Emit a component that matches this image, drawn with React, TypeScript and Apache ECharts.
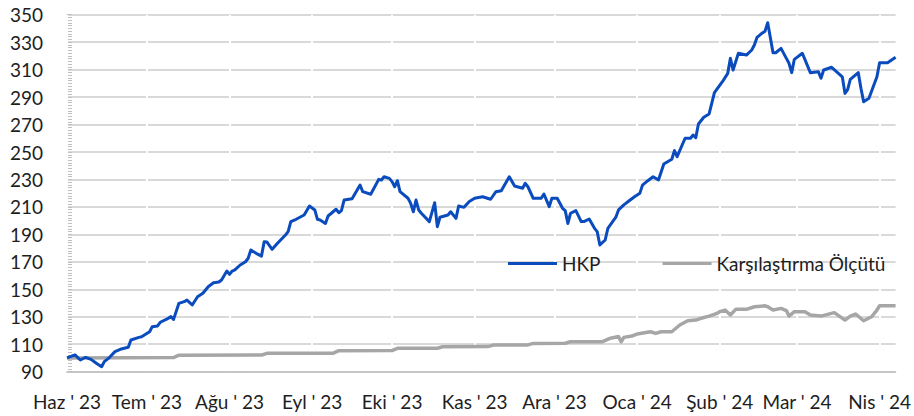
import React, { useEffect, useRef } from 'react';
import * as echarts from 'echarts';

const monthNames = ['Oca', 'Şub', 'Mar', 'Nis', 'May', 'Haz', 'Tem', 'Ağu', 'Eyl', 'Eki', 'Kas', 'Ara'];
const seriesNames = ['HKP', 'Karşılaştırma Ölçütü'];

const hkpDates = [
  '2023-06-01', '2023-06-04', '2023-06-06', '2023-06-08', '2023-06-10', '2023-06-12', '2023-06-14', '2023-06-15',
  '2023-06-17', '2023-06-19', '2023-06-21', '2023-06-24', '2023-06-25', '2023-06-28', '2023-06-29',
  '2023-07-02', '2023-07-03', '2023-07-05', '2023-07-06', '2023-07-09', '2023-07-10', '2023-07-11', '2023-07-13',
  '2023-07-15', '2023-07-16', '2023-07-18', '2023-07-20', '2023-07-22', '2023-07-24', '2023-07-26', '2023-07-28',
  '2023-07-29', '2023-07-31',
  '2023-08-01', '2023-08-02', '2023-08-03', '2023-08-05', '2023-08-07', '2023-08-08', '2023-08-09', '2023-08-11',
  '2023-08-13', '2023-08-14', '2023-08-15', '2023-08-17', '2023-08-19', '2023-08-22', '2023-08-23', '2023-08-24',
  '2023-08-26', '2023-08-29', '2023-08-31',
  '2023-09-02', '2023-09-03', '2023-09-04', '2023-09-06', '2023-09-07', '2023-09-10', '2023-09-11', '2023-09-12',
  '2023-09-13', '2023-09-16', '2023-09-19', '2023-09-20', '2023-09-23', '2023-09-26', '2023-09-27', '2023-09-28',
  '2023-09-30',
  '2023-10-01', '2023-10-02', '2023-10-03', '2023-10-04', '2023-10-07', '2023-10-08', '2023-10-09', '2023-10-10',
  '2023-10-11', '2023-10-12', '2023-10-15', '2023-10-17', '2023-10-18', '2023-10-19', '2023-10-22', '2023-10-23',
  '2023-10-25', '2023-10-26', '2023-10-28', '2023-10-30',
  '2023-11-01', '2023-11-04', '2023-11-07', '2023-11-09', '2023-11-11', '2023-11-14', '2023-11-16', '2023-11-19',
  '2023-11-20', '2023-11-21', '2023-11-23', '2023-11-26', '2023-11-27', '2023-11-29', '2023-11-30',
  '2023-12-02', '2023-12-04', '2023-12-05', '2023-12-06', '2023-12-07', '2023-12-09', '2023-12-11', '2023-12-12',
  '2023-12-14', '2023-12-16', '2023-12-17', '2023-12-18', '2023-12-20', '2023-12-21', '2023-12-24', '2023-12-25',
  '2023-12-27', '2023-12-29', '2023-12-31',
  '2024-01-02', '2024-01-03', '2024-01-05', '2024-01-07', '2024-01-09', '2024-01-11', '2024-01-14', '2024-01-15',
  '2024-01-16', '2024-01-19', '2024-01-21', '2024-01-22', '2024-01-23', '2024-01-24', '2024-01-26', '2024-01-28',
  '2024-01-30',
  '2024-02-02', '2024-02-04', '2024-02-05', '2024-02-06', '2024-02-08', '2024-02-11', '2024-02-13', '2024-02-14',
  '2024-02-15', '2024-02-17', '2024-02-18', '2024-02-19', '2024-02-21', '2024-02-22', '2024-02-24', '2024-02-26',
  '2024-02-27', '2024-02-28', '2024-02-29',
  '2024-03-03', '2024-03-06', '2024-03-09', '2024-03-10', '2024-03-11', '2024-03-14', '2024-03-18', '2024-03-19',
  '2024-03-20', '2024-03-21', '2024-03-24', '2024-03-25', '2024-03-26', '2024-03-28', '2024-03-31',
  '2024-04-01', '2024-04-04', '2024-04-07',
];

const hkpValues = [
  100, 102.2, 98.5, 100.5, 99, 96.1, 93.6, 97.3,
  100.5, 104.6, 106.3, 107.8, 113.1, 115, 115.5,
  119.1, 122.8, 123.3, 126, 128.9, 130.1, 128.1, 139.8,
  141, 142.2, 138.6, 144.6, 147.1, 151.9, 154.8, 155.3,
  156.8, 163.3,
  160.9, 163.3, 164.1, 167.7, 170.1, 172.6, 178.6, 176.2,
  174.2, 184.7, 184.5, 179.1, 183.5, 189.6, 192, 199.3,
  201, 204.1, 210.7,
  207.8, 201, 200.5, 198, 203.4, 208.3, 205.8, 207.3,
  215, 216, 226, 221.1, 219.2, 230.1, 229.6, 232,
  230.8,
  228.4, 224.7, 229.1, 221.1, 216.3, 212.6, 206.5, 215,
  207.8, 205.4, 199.3, 213.1, 195.6, 202.5, 204.1, 206.5,
  201.7, 210.7, 209.7, 213.9,
  216.3, 217.4, 215.6, 221.1, 221.8, 232, 225.2, 223.6,
  227.2, 224.7, 216.3, 216.3, 219.4, 210.2, 216.3,
  216.3, 209, 207.3, 198, 205.4, 207.3, 199.3, 199.3,
  201.2, 194.4, 192, 182.3, 185.9, 194.4, 202.5, 207.8,
  211.5, 214.5, 217.4,
  219.9, 225.9, 229.1, 232, 229.6, 241.3, 244.7, 251,
  246.6, 260, 260, 262.4, 260.4, 270.4, 275.3, 277.7,
  293.2,
  301.2, 307.3, 318.2, 309.7, 321.9, 320.6, 324.3, 327.9,
  333.5, 336.7, 338, 344.2, 322.3, 322.3, 325.5, 318.2,
  314.6, 307.8, 317.5,
  321.9, 307.8, 308.5, 303.7, 309.7, 311.7, 304.8, 292.7,
  295.4, 302.9, 307.8, 296.4, 286.6, 289.1, 304.8,
  315, 315, 319,
];

const benchDates = [
  '2023-06-01', '2023-07-11', '2023-07-13', '2023-08-13', '2023-08-15', '2023-09-09', '2023-09-11', '2023-10-01',
  '2023-10-03', '2023-10-18', '2023-10-20', '2023-11-06', '2023-11-08', '2023-11-21', '2023-11-23', '2023-12-05',
  '2023-12-07', '2023-12-19', '2023-12-22', '2023-12-25', '2023-12-26', '2023-12-27', '2023-12-30',
  '2024-01-01', '2024-01-06', '2024-01-08', '2024-01-10', '2024-01-14', '2024-01-17', '2024-01-20', '2024-01-23',
  '2024-01-25', '2024-01-28', '2024-01-31',
  '2024-02-01', '2024-02-03', '2024-02-05', '2024-02-07', '2024-02-11', '2024-02-14', '2024-02-18', '2024-02-19',
  '2024-02-21', '2024-02-24', '2024-02-26', '2024-02-27', '2024-02-29',
  '2024-03-04', '2024-03-06', '2024-03-10', '2024-03-15', '2024-03-19', '2024-03-21', '2024-03-23', '2024-03-26',
  '2024-03-29', '2024-03-31', '2024-04-01', '2024-04-07',
];

const benchValues = [
  100, 100.3, 102, 102.1, 103.4, 103.5, 105.3, 105.4,
  107, 107.1, 108.2, 108.3, 109.4, 109.5, 110.6, 110.7,
  111.8, 111.9, 114.4, 115.6, 111.8, 115, 116,
  117.4, 119.1, 117.9, 119.1, 119.1, 124, 127.1, 127.6,
  128.9, 130.5, 132.5,
  133.7, 134.9, 131.3, 135.4, 135.4, 137.3, 138, 137.3,
  134.9, 136.1, 134.5, 130.5, 133.7,
  133.7, 131.3, 130.5, 133, 127.6, 130.5, 132, 127.1,
  130, 134.9, 138, 138,
];

const FONT = 'Lato';
const TEXT_COLOR = '#1e1e1e';

export default function App() {
  const ref = useRef<HTMLDivElement>(null);

  useEffect(() => {
    if (!ref.current) return;
    const chart = echarts.init(ref.current, null, { renderer: 'svg' });
    const hkpData = hkpDates.map((d, i) => [d, hkpValues[i]]);
    const benchData = benchDates.map((d, i) => [d, benchValues[i]]);

    chart.setOption({
      animation: false,
      backgroundColor: '#ffffff',
      grid: { left: 67, right: 13, top: 14.7, bottom: 44.3, containLabel: false },
      legend: {
        show: true,
        left: 503,
        top: 249,
        icon: 'rect',
        itemWidth: 49,
        itemHeight: 3,
        itemGap: 62,
        textStyle: { fontSize: 19, fontFamily: FONT, color: TEXT_COLOR },
        data: seriesNames,
      },
      xAxis: {
        type: 'time',
        min: hkpDates[0],
        max: hkpDates[hkpDates.length - 1],
        splitNumber: 11,
        z: 1,
        axisLine: { show: true, lineStyle: { color: '#bfbfbf', width: 1.5 } },
        axisTick: { show: false },
        axisLabel: {
          fontSize: 19,
          fontFamily: FONT,
          color: TEXT_COLOR,
          margin: 20,
          showMaxLabel: false,
          hideOverlap: false,
          formatter: (val: number) => {
            const d = new Date(val);
            return `${monthNames[d.getMonth()]} ' ${String(d.getFullYear()).slice(2)}`;
          },
        },
        splitLine: {
          show: true,
          showMinLine: false,
          showMaxLine: false,
          lineStyle: { color: '#ffffff', width: 2 },
        },
      },
      yAxis: {
        type: 'value',
        min: 90,
        max: 350,
        interval: 20,
        axisLine: { show: true, lineStyle: { color: '#bfbfbf', width: 1.5 } },
        axisTick: { show: true, inside: true, length: 5, lineStyle: { color: '#bfbfbf' } },
        minorTick: { show: true, splitNumber: 10, length: 5, lineStyle: { color: '#bfbfbf' } },
        axisLabel: { fontSize: 19, fontFamily: FONT, color: TEXT_COLOR, margin: 24 },
        splitLine: { show: true, lineStyle: { color: '#d9d9d9', width: 2 } },
      },
      series: [
        {
          name: seriesNames[0],
          type: 'line',
          data: hkpData,
          symbol: 'none',
          color: '#0a4bbd',
          lineStyle: { width: 3, color: '#0a4bbd', join: 'round' },
          z: 3,
        },
        {
          name: seriesNames[1],
          type: 'line',
          data: benchData,
          symbol: 'none',
          color: '#a6a6a6',
          lineStyle: { width: 3.5, color: '#a6a6a6', join: 'round' },
          z: 2,
        },
      ],
    });
    return () => chart.dispose();
  }, []);

  return (
    <div
      ref={ref}
      style={{ position: 'absolute', left: 0, top: 0, width: 914, height: 416 }}
    />
  );
}
